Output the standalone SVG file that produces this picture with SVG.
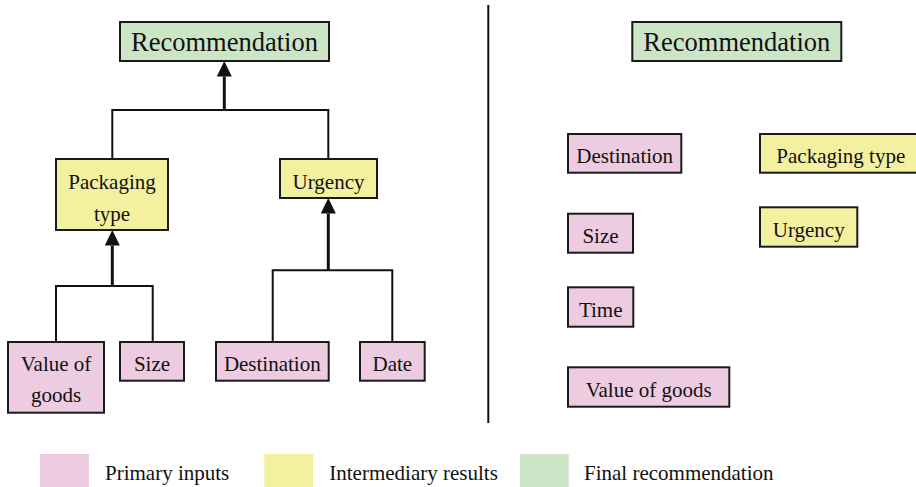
<svg xmlns="http://www.w3.org/2000/svg" width="916" height="487" viewBox="0 0 916 487">
  <style>
    text { font-family: "Liberation Serif", "Times New Roman", serif; fill: #111; text-anchor: middle; }
    .lbl { font-size: 21px; }
    .big { font-size: 26.5px; }
    .leg { font-size: 21px; text-anchor: start; }
    .box { stroke: #1a1a1a; stroke-width: 2; }
    .input { fill: #edcbe1; }
    .mid { fill: #f3f09f; }
    .final { fill: #cce5c6; }
    .thin { fill: none; stroke: #111; stroke-width: 2; }
    .shaft { fill: none; stroke: #111; stroke-width: 3; marker-end: url(#head); }
  </style>
  <defs>
    <marker id="head" markerUnits="userSpaceOnUse" markerWidth="16" markerHeight="16" refX="0" refY="7.5" orient="auto" overflow="visible">
      <path d="M0,0 L15.5,7.5 L0,15 z" fill="#111"/>
    </marker>
  </defs>

  <!-- Left: decision tree -->
  <g id="connectors">
    <!-- into Recommendation -->
    <polyline class="thin" points="112.3,159 112.3,110 328.3,110 328.3,159"/>
    <line class="shaft" x1="224.3" y1="110" x2="224.3" y2="76.5"/>
    <!-- into Packaging type -->
    <polyline class="thin" points="56,342 56,286 152.7,286 152.7,342"/>
    <line class="shaft" x1="112.3" y1="286" x2="112.3" y2="245.5"/>
    <!-- into Urgency -->
    <polyline class="thin" points="272.7,342 272.7,270.3 392.3,270.3 392.3,342"/>
    <line class="shaft" x1="328.3" y1="270.3" x2="328.3" y2="213.5"/>
  </g>

  <g id="rec-left">
    <rect class="box final" x="120" y="22" width="209" height="39"/>
    <text class="big" x="224.5" y="51">Recommendation</text>
  </g>
  <g id="packaging-left">
    <rect class="box mid" x="56" y="159" width="112" height="71"/>
    <text class="lbl" x="112" y="189.3">Packaging</text>
    <text class="lbl" x="112" y="220.5">type</text>
  </g>
  <g id="urgency-left">
    <rect class="box mid" x="280" y="159" width="97" height="39"/>
    <text class="lbl" x="328.5" y="189">Urgency</text>
  </g>
  <g id="value-left">
    <rect class="box input" x="8" y="342" width="96" height="70.7"/>
    <text class="lbl" x="56" y="370.7">Value of</text>
    <text class="lbl" x="56" y="402">goods</text>
  </g>
  <g id="size-left">
    <rect class="box input" x="120" y="342" width="64" height="38.7"/>
    <text class="lbl" x="152" y="370.7">Size</text>
  </g>
  <g id="destination-left">
    <rect class="box input" x="216" y="342" width="112.7" height="38.7"/>
    <text class="lbl" x="272.3" y="370.7">Destination</text>
  </g>
  <g id="date-left">
    <rect class="box input" x="360" y="342" width="64.7" height="38.7"/>
    <text class="lbl" x="392.3" y="370.7">Date</text>
  </g>

  <!-- Divider -->
  <line x1="488.3" y1="5" x2="488.3" y2="423" stroke="#111" stroke-width="2"/>

  <!-- Right: unstructured set -->
  <g id="rec-right">
    <rect class="box final" x="632.3" y="22" width="209" height="39"/>
    <text class="big" x="736.8" y="51">Recommendation</text>
  </g>
  <g id="destination-right">
    <rect class="box input" x="568" y="134" width="113.3" height="38.7"/>
    <text class="lbl" x="624.7" y="162.7">Destination</text>
  </g>
  <g id="packaging-right">
    <rect class="box mid" x="760" y="134" width="162" height="38.7"/>
    <text class="lbl" x="840.8" y="162.7">Packaging type</text>
  </g>
  <g id="size-right">
    <rect class="box input" x="568" y="213.7" width="65" height="39"/>
    <text class="lbl" x="600.5" y="243">Size</text>
  </g>
  <g id="urgency-right">
    <rect class="box mid" x="760" y="207.3" width="97.3" height="39.4"/>
    <text class="lbl" x="808.7" y="236.7">Urgency</text>
  </g>
  <g id="time-right">
    <rect class="box input" x="568" y="287.3" width="65.3" height="39.4"/>
    <text class="lbl" x="600.7" y="316.7">Time</text>
  </g>
  <g id="value-right">
    <rect class="box input" x="568" y="367.3" width="161.3" height="39.4"/>
    <text class="lbl" x="648.7" y="396.7">Value of goods</text>
  </g>

  <!-- Legend -->
  <g id="legend">
    <rect class="input" x="40" y="454" width="49" height="34"/>
    <text class="leg" x="105" y="480">Primary inputs</text>
    <rect class="mid" x="264.3" y="454" width="49" height="34"/>
    <text class="leg" x="329.3" y="480">Intermediary results</text>
    <rect class="final" x="520" y="454" width="48.7" height="34"/>
    <text class="leg" x="584" y="480">Final recommendation</text>
  </g>
</svg>
